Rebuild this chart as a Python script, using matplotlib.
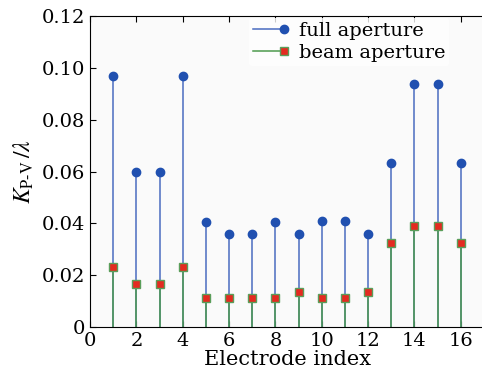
import numpy as np
import matplotlib.pyplot as plt
from matplotlib.lines import Line2D
from matplotlib.legend_handler import HandlerBase

plt.rcParams['font.family'] = ['DejaVu Serif']
plt.rcParams['mathtext.fontset'] = 'stix'

electrodes = np.arange(1, 17)
full_aperture = [0.097, 0.0597, 0.0597, 0.097, 0.0405, 0.036, 0.036, 0.0405,
                 0.036, 0.041, 0.041, 0.036, 0.0635, 0.094, 0.094, 0.0635]
beam_aperture = [0.0232, 0.0168, 0.0168, 0.0232, 0.0112, 0.0112, 0.0112, 0.0112,
                 0.0137, 0.0112, 0.0112, 0.0137, 0.0325, 0.039, 0.039, 0.0325]


class LineEndMarker(HandlerBase):
    # line with the marker sitting at its right end
    def __init__(self, line_color, **mk):
        super().__init__()
        self.line_color = line_color
        self.mk = mk

    def create_artists(self, legend, orig, xd, yd, w, h, fs, trans):
        y = h / 2 - yd
        ln = Line2D([-xd, w - xd], [y, y], color=self.line_color, lw=1.1, transform=trans)
        mk = Line2D([w - xd], [y], linestyle='none', transform=trans, **self.mk)
        return [ln, mk]


fig = plt.figure(figsize=(4.82, 3.76), dpi=100)
ax = fig.add_axes([0.187, 0.13, 0.817, 0.827])
ax.set_facecolor('#fafafa')

m, s, b = ax.stem(electrodes, full_aperture)
m.set_color('#2050b0')
m.set_markersize(6)
s.set_color('#4a6cc0')
s.set_linewidth(1.1)
b.set_visible(False)

m2, s2, b2 = ax.stem(electrodes, beam_aperture, markerfmt='s')
m2.set_markerfacecolor('#e42a20')
m2.set_markeredgecolor('#5a9e5a')
m2.set_markeredgewidth(1)
m2.set_markersize(6)
s2.set_color('#4e9a4e')
s2.set_linewidth(1.1)
b2.set_visible(False)

ax.set_xlim(0, 17)
ax.set_ylim(0, 0.12)
ax.set_xticks(np.arange(0, 17, 2))
ax.set_yticks(np.arange(0, 0.121, 0.02))
ax.set_yticklabels(['0', '0.02', '0.04', '0.06', '0.08', '0.10', '0.12'])
ax.tick_params(direction='in', top=True, right=False, labelsize=14, length=4)
ax.spines['right'].set_visible(False)
ax.set_xlabel('Electrode index', fontsize=15, labelpad=0)
ax.set_ylabel(r'$K_{\mathrm{P\text{-}V}}\,/\lambda$', fontsize=17, labelpad=4)

h_full = Line2D([], [])
h_beam = Line2D([], [])
leg = ax.legend([h_full, h_beam], ['full aperture', 'beam aperture'],
                handler_map={
                    h_full: LineEndMarker('#4a6cc0', marker='o', color='#2050b0', markersize=6),
                    h_beam: LineEndMarker('#4e9a4e', marker='s', markerfacecolor='#e42a20',
                                          markeredgecolor='#5a9e5a', markersize=6)},
                loc='upper left', bbox_to_anchor=(0.38, 1.025), frameon=True,
                fontsize=14, handlelength=1.6, handletextpad=0.75,
                borderpad=0.2, labelspacing=0.2)
leg.get_frame().set_edgecolor('none')
leg.get_frame().set_facecolor('white')

fig.savefig('out.png', dpi=100)
